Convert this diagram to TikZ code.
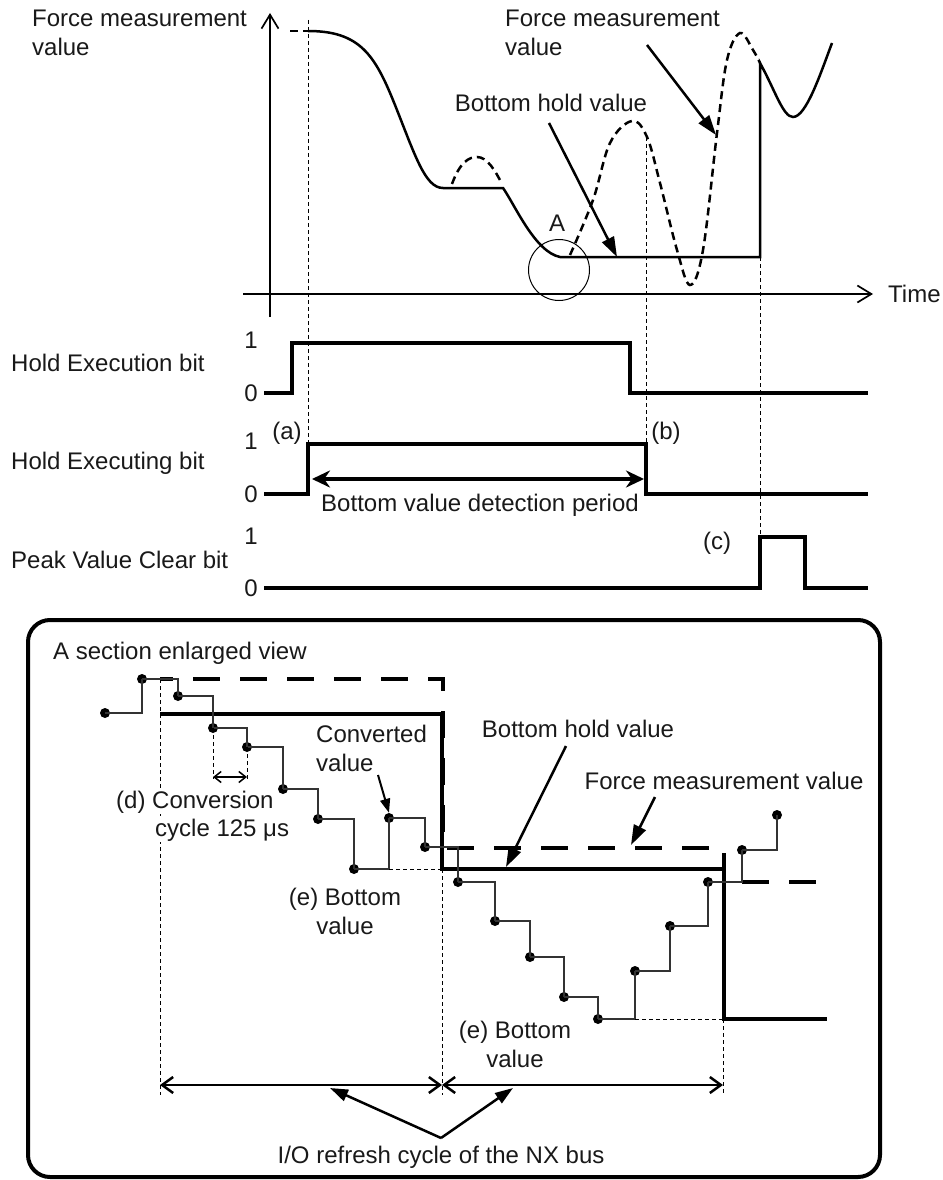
\documentclass[tikz,border=0pt]{standalone}
\usepackage{fontspec}
\setmainfont{Liberation Sans}
\usetikzlibrary{arrows.meta}
\begin{document}
\begin{tikzpicture}[x=1pt,y=-1pt,
  lbl/.style={font=\fontsize{24}{29}\selectfont, inner sep=0pt, text=black!90},
  sig/.style={line width=3.2pt},
  curve/.style={line width=2.5pt},
  dcurve/.style={line width=2.5pt, dash pattern=on 8pt off 5pt},
  thindash/.style={line width=1pt, dash pattern=on 4pt off 3pt},
  axis/.style={line width=1.7pt},
  ptr/.style={line width=2.5pt, -{Triangle[length=20pt,width=13pt]}},
  smallptr/.style={line width=2pt, -{Triangle[length=14pt,width=10pt]}},
  stair/.style={line width=1.5pt, black!80},
  dot/.style={circle, fill=black, inner sep=0pt, minimum size=10pt},
  heavy/.style={line width=4pt},
  heavydash/.style={line width=4pt, dash pattern=on 27pt off 20pt, dash phase=14pt},
  openarrows/.style={line width=2.5pt, {Straight Barb[length=11pt,width=16pt]}-{Straight Barb[length=11pt,width=16pt]}},
]
\useasboundingbox (0,0) rectangle (942,1180);

% ---------- top graph ----------
\draw[axis,-{Straight Barb[length=14pt,width=17pt]}] (270,317) coordinate (yb) -- (270,13) coordinate (yt);
\draw[axis,-{Straight Barb[length=14pt,width=17pt]}] (243,294) coordinate (xb) -- (873,294) coordinate (xt);
\node[lbl, anchor=west] (time) at (888,294) {Time};
\node[lbl, anchor=west, align=left] (tlab) at (32,33) {Force measurement\\value};
\node[lbl, anchor=west, align=left] (trlab) at (505,33) {Force measurement\\value};
\node[lbl] (tbh) at (551,103) {Bottom hold value};

% thin dashed verticals
\draw[thindash] (308,20) coordinate (va1) -- (308,444) coordinate (va2);
\draw[thindash] (646,137) coordinate (vb1) -- (646,444) coordinate (vb2);
\draw[thindash] (760,257) coordinate (vc1) -- (760,537) coordinate (vc2);

% curves
\draw[dcurve] (290,31) -- (308,31);
\draw[curve] (308,31) .. controls (360,31) and (375,55) .. (395,105)
  .. controls (415,155) and (425,188) .. (443,188) -- (503,188)
  .. controls (515,205) and (535,252) .. (560,257) -- (760,257) -- (760,63)
  .. controls (775,90) and (783,117) .. (793,117)
  .. controls (806,117) and (820,75) .. (832,43);
\draw[dcurve] (452,184) .. controls (460,162) and (469,157) .. (477,157)
  .. controls (487,157) and (495,170) .. (502,184);
\draw[dcurve] plot[smooth, tension=0.6] coordinates {(570,255) (593,200) (610,143) (632,121) (647,137) (660,183) (677,250) (690,285) (703,250) (717,133) (727,60) (740,33) (753,50) (760,63)};

\node[draw, circle, line width=1pt, minimum size=61pt, inner sep=0pt] (circA) at (559,270) {};
\node[lbl] (labA) at (557,223) {A};

\coordinate (p1s) at (549,123); \coordinate (p1e) at (617,257);
\draw[ptr] (p1s) -- (p1e);
\coordinate (p2s) at (647,45); \coordinate (p2e) at (716,135);
\draw[ptr] (p2s) -- (p2e);

% ---------- bit signals ----------
\node[lbl, anchor=west] (b1) at (11,363) {Hold Execution bit};
\node[lbl, anchor=west] (b2) at (11,463) {Hold Executing bit};
\node[lbl, anchor=west] (b3) at (11,560) {Peak Value Clear bit};
\node[lbl] (h1) at (251,340) {1};
\node[lbl] (l1) at (251,393) {0};
\node[lbl] (h2) at (251,441) {1};
\node[lbl] (l2) at (251,494) {0};
\node[lbl] (h3) at (251,536) {1};
\node[lbl] (l3) at (251,588) {0};

\draw[sig] (264,393) -- (292,393) -- (292,343) -- (630,343) -- (630,393) -- (868,393);
\draw[sig] (264,494) -- (308,494) -- (308,444) -- (646,444) -- (646,494) -- (868,494);
\draw[sig] (264,588) -- (760,588) -- (760,537) -- (805,537) -- (805,588) -- (868,588);

\node[lbl] (la) at (287,433) {(a)};
\node[lbl] (lb) at (666,433) {(b)};
\node[lbl] (lc) at (717,543) {(c)};

\coordinate (per1) at (312,479); \coordinate (per2) at (644,479);
\draw[line width=4pt, {Stealth[length=18pt,width=17pt]}-{Stealth[length=18pt,width=17pt]}] (per1) -- (per2);
\node[lbl] (pertxt) at (480,505) {Bottom value detection period};

% ---------- enlarged view ----------
\draw[line width=4pt, rounded corners=22pt] (28,620) rectangle (880,1177);
\node[lbl, anchor=west] (enl) at (53,653) {A section enlarged view};

% thin dashed verticals for I/O refresh
\draw[thindash] (160,679) -- (160,1095);
\draw[thindash] (442,869) -- (442,1095);
\draw[thindash] (723,1019) -- (723,1095);

% force measurement (dashed heavy)
\draw[heavydash] (160,679) -- (443,679) -- (443,848) -- (724,848) -- (724,882) -- (830,882);
% bottom hold (solid heavy)
\draw[heavy] (160,714) -- (442,714) -- (442,869) -- (724,869) -- (724,1019) -- (827,1019);

% staircase of converted values
\node[dot] (d1) at (105,713) {};
\node[dot] (d2) at (142,679) {};
\node[dot] (d3) at (178,696) {};
\node[dot] (d4) at (213,728) {};
\node[dot] (d5) at (247,747) {};
\node[dot] (d6) at (283,789) {};
\node[dot] (d7) at (318,819) {};
\node[dot] (d8) at (354,869) {};
\node[dot] (d9) at (389,818) {};
\node[dot] (d10) at (425,847) {};
\node[dot] (d11) at (458,882) {};
\node[dot] (d12) at (495,921) {};
\node[dot] (d13) at (530,957) {};
\node[dot] (d14) at (564,997) {};
\node[dot] (d15) at (598,1019) {};
\node[dot] (d16) at (635,971) {};
\node[dot] (d17) at (670,926) {};
\node[dot] (d18) at (708,882) {};
\node[dot] (d19) at (742,850) {};
\node[dot] (d20) at (777,815) {};
\foreach \a/\b in {1/2,2/3,3/4,4/5,5/6,6/7,7/8,8/9,9/10,10/11,11/12,12/13,13/14,14/15,15/16,16/17,17/18,18/19,19/20}
  \draw[stair] (d\a.center) -| (d\b.center);
\draw[thindash] (d9 |- d8) -- (442,869);
\draw[thindash] (d16 |- d15) -- (723,1019);

% conversion cycle marker
\draw[thindash] (d4.center) -- (213,779);
\draw[thindash] (d5.center) -- (247,779);
\draw[line width=1.5pt, {Straight Barb[length=7pt,width=11pt]}-{Straight Barb[length=7pt,width=11pt]}] (213,777) -- (247,777);
\node[lbl, anchor=west, fill=white, inner sep=1pt] (cc1) at (115,802) {(d) Conversion};
\node[lbl, anchor=west, fill=white, inner sep=1pt] (cc2) at (154,830) {cycle 125 μs};

\node[lbl, anchor=west, align=left] (conv) at (316,748) {Converted\\value};
\coordinate (cvs) at (378,775);
\draw[smallptr] (cvs) -- (d9.north);

\node[lbl, align=center] (eb1) at (345,911) {(e) Bottom\\value};
\node[lbl, align=center] (eb2) at (515,1044) {(e) Bottom\\value};

\node[lbl] (ebh) at (578,729) {Bottom hold value};
\coordinate (p3s) at (566,746); \coordinate (p3e) at (506,867);
\draw[ptr] (p3s) -- (p3e);
\node[lbl] (efm) at (724,781) {Force measurement value};
\coordinate (p4s) at (655,797); \coordinate (p4e) at (631,845);
\draw[ptr] (p4s) -- (p4e);

% I/O refresh cycle
\coordinate (io1) at (160,1085); \coordinate (io2) at (442,1085); \coordinate (io3) at (723,1085);
\draw[openarrows] (io1) -- (io2);
\draw[openarrows] (io2) -- (io3);
\coordinate (iop) at (441,1138);
\coordinate (ioa) at (330,1088); \coordinate (iob) at (513,1088);
\draw[line width=2.5pt, -{Triangle[length=18pt,width=12pt]}] (iop) -- (ioa);
\draw[line width=2.5pt, -{Triangle[length=18pt,width=12pt]}] (iop) -- (iob);
\node[lbl] (iotxt) at (441,1157) {I/O refresh cycle of the NX bus};
\end{tikzpicture}
\end{document}
